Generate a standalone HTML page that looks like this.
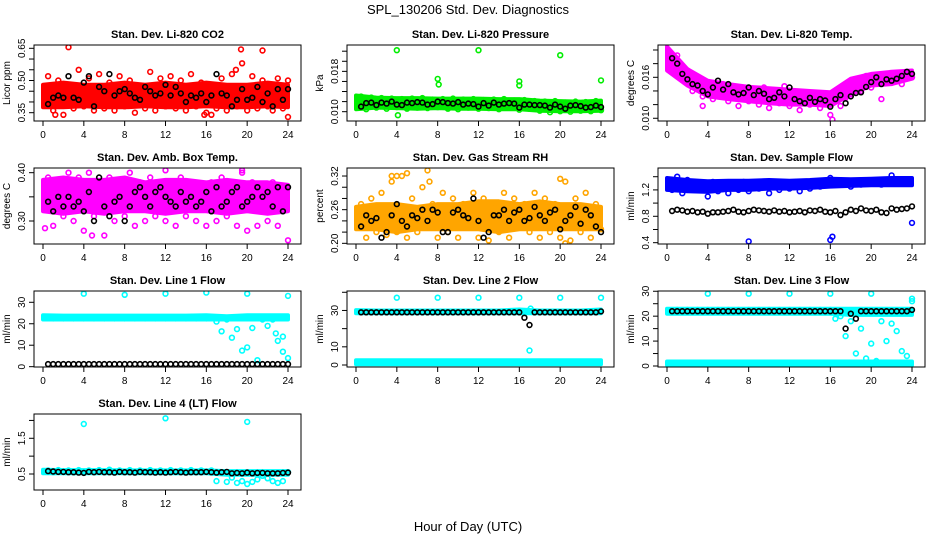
<!DOCTYPE html>
<html><head><meta charset="utf-8"><title>SPL_130206 Std. Dev. Diagnostics</title>
<style>
html,body{margin:0;padding:0;background:#fff;}
svg{display:block;font-family:"Liberation Sans",Arial,sans-serif;}
</style></head>
<body>
<svg id="fig" width="936" height="540" viewBox="0 0 936 540" xmlns="http://www.w3.org/2000/svg">
<rect x="0" y="0" width="936" height="540" fill="#fff"/>
<text x="468" y="14" text-anchor="middle" font-size="13">SPL_130206  Std. Dev. Diagnostics</text>
<text x="468" y="531" text-anchor="middle" font-size="13">Hour of Day (UTC)</text>
</svg>
<script>
const hours=[0.5,1,1.5,2,2.5,3,3.5,4,4.5,5,5.5,6,6.5,7,7.5,8,8.5,9,9.5,10,10.5,11,11.5,12,12.5,13,13.5,14,14.5,15,15.5,16,16.5,17,17.5,18,18.5,19,19.5,20,20.5,21,21.5,22,22.5,23,23.5,24];
const bandHours=[0,2,4,6,8,10,12,14,16,18,20,22,24];
const xTicks=[0,4,8,12,16,20,24];

// P1 CO2
const co2Black=[0.39,0.42,0.43,0.42,0.52,0.42,0.41,0.49,0.52,0.38,0.47,0.45,0.53,0.43,0.45,0.46,0.44,0.42,0.41,0.47,0.45,0.43,0.44,0.48,0.43,0.47,0.44,0.40,0.43,0.42,0.44,0.40,0.43,0.53,0.44,0.43,0.38,0.41,0.46,0.41,0.42,0.47,0.40,0.44,0.38,0.46,0.41,0.46];
const co2Color=[0.52,0.36,0.50,0.34,0.47,0.37,0.55,0.38,0.51,0.36,0.53,0.37,0.49,0.36,0.52,0.38,0.50,0.35,0.46,0.37,0.54,0.36,0.51,0.38,0.52,0.37,0.50,0.36,0.53,0.38,0.49,0.35,0.34,0.37,0.51,0.36,0.53,0.38,0.58,0.36,0.52,0.37,0.50,0.38,0.36,0.51,0.37,0.50];
const co2BandLo=[0.375,0.375,0.38,0.375,0.375,0.38,0.375,0.375,0.38,0.375,0.375,0.38,0.375];
const co2BandHi=[0.48,0.49,0.48,0.48,0.49,0.48,0.49,0.48,0.49,0.48,0.48,0.49,0.48];
const co2OutX=[2.5,19.4,21.5,18.9,24,1.2,15.8];
const co2OutY=[0.655,0.645,0.64,0.55,0.33,0.34,0.34];

// P2 Pressure
const presBlack=[0.0110,0.0117,0.0118,0.0113,0.0118,0.0116,0.0120,0.0114,0.0113,0.0118,0.0117,0.0119,0.0118,0.0114,0.0115,0.0120,0.0119,0.0117,0.0116,0.0119,0.0114,0.0116,0.0115,0.0110,0.0117,0.0112,0.0118,0.0114,0.0116,0.0117,0.0116,0.0108,0.0114,0.0114,0.0113,0.0113,0.0112,0.0108,0.0114,0.0110,0.0106,0.0112,0.0113,0.0111,0.0108,0.0109,0.0112,0.0109];
const presColor=[0.0130,0.0105,0.0128,0.0108,0.0127,0.0106,0.0126,0.0109,0.0125,0.0106,0.0126,0.0108,0.0127,0.0107,0.0124,0.0109,0.0125,0.0106,0.0126,0.0105,0.0124,0.0108,0.0125,0.0106,0.0123,0.0107,0.0124,0.0105,0.0125,0.0108,0.0122,0.0104,0.0123,0.0106,0.0121,0.0102,0.0120,0.0099,0.0121,0.0101,0.0118,0.0100,0.0120,0.0102,0.0119,0.0101,0.0121,0.0103];
const presBandLo=[0.0105,0.0108,0.0107,0.0106,0.0107,0.0106,0.0106,0.0105,0.0105,0.0102,0.0101,0.0101,0.0102];
const presBandHi=[0.0132,0.0128,0.0127,0.0127,0.0126,0.0126,0.0126,0.0125,0.0125,0.0122,0.0121,0.0120,0.0122];
const presOutX=[4,12,20,8,8.1,16,16,24,4.1];
const presOutY=[0.0222,0.0222,0.0212,0.0165,0.0154,0.016,0.0152,0.0162,0.0093];

// P3 Li-820 Temp
const ltBlack=[0.0188,0.0180,0.0165,0.0157,0.0150,0.0148,0.0140,0.0135,0.0145,0.0155,0.0142,0.0150,0.0138,0.0135,0.0137,0.0145,0.0134,0.0140,0.0136,0.0128,0.0130,0.0138,0.0132,0.0145,0.0128,0.0125,0.0122,0.0130,0.0124,0.0128,0.0126,0.0117,0.0128,0.0134,0.0122,0.0132,0.0137,0.0138,0.0146,0.0153,0.0160,0.0150,0.0157,0.0155,0.0158,0.0162,0.0168,0.0165];
const ltColor=[0.0178,0.0192,0.0158,0.0170,0.0140,0.0158,0.0132,0.0150,0.0128,0.0145,0.0150,0.0125,0.0140,0.0118,0.0138,0.0125,0.0142,0.0120,0.0145,0.0115,0.0140,0.0122,0.0147,0.0118,0.0135,0.0112,0.0132,0.0120,0.0128,0.0115,0.0130,0.0105,0.0126,0.0118,0.0130,0.0135,0.0150,0.0140,0.0162,0.0145,0.0158,0.0128,0.0165,0.0152,0.0160,0.0150,0.0168,0.0160];
const ltBandLo=[0.0170,0.0148,0.0132,0.0128,0.0125,0.0122,0.0120,0.0120,0.0118,0.0135,0.0148,0.0150,0.0158];
const ltBandHi=[0.0205,0.0172,0.0155,0.0150,0.0146,0.0144,0.0142,0.0140,0.0138,0.0158,0.0165,0.0168,0.0170];
const ltOutX=[3.5,16.2];
const ltOutY=[0.0118,0.0098];

// P4 Amb Box Temp
const abBlack=[0.34,0.32,0.35,0.33,0.35,0.33,0.34,0.32,0.36,0.30,0.39,0.33,0.31,0.34,0.35,0.30,0.33,0.36,0.37,0.35,0.33,0.36,0.37,0.35,0.34,0.33,0.36,0.34,0.35,0.33,0.34,0.36,0.32,0.37,0.33,0.34,0.36,0.37,0.33,0.34,0.35,0.37,0.35,0.36,0.33,0.37,0.32,0.37];
const abColor=[0.39,0.29,0.38,0.31,0.40,0.30,0.39,0.28,0.40,0.31,0.38,0.27,0.39,0.30,0.38,0.31,0.40,0.29,0.38,0.30,0.39,0.31,0.37,0.30,0.38,0.29,0.39,0.31,0.38,0.30,0.37,0.29,0.38,0.30,0.39,0.31,0.37,0.29,0.40,0.28,0.38,0.29,0.37,0.30,0.38,0.29,0.36,0.26];
const abBandLo=[0.32,0.315,0.32,0.315,0.32,0.32,0.315,0.32,0.32,0.315,0.32,0.315,0.32];
const abBandHi=[0.385,0.39,0.385,0.385,0.39,0.38,0.385,0.385,0.38,0.385,0.38,0.38,0.375];
const abOutX=[0.2,4.8,12,19.5];
const abOutY=[0.285,0.27,0.405,0.405];

// P5 Gas Stream RH
const rhBlack=[0.23,0.25,0.24,0.245,0.21,0.22,0.25,0.27,0.24,0.23,0.25,0.245,0.26,0.24,0.26,0.255,0.22,0.22,0.255,0.26,0.25,0.245,0.28,0.24,0.21,0.22,0.25,0.25,0.26,0.24,0.255,0.26,0.24,0.245,0.265,0.25,0.24,0.255,0.26,0.225,0.24,0.25,0.265,0.235,0.26,0.25,0.23,0.22];
const rhColor=[0.27,0.21,0.28,0.22,0.29,0.215,0.31,0.22,0.32,0.21,0.28,0.22,0.30,0.23,0.27,0.21,0.29,0.22,0.28,0.21,0.27,0.23,0.29,0.21,0.28,0.205,0.27,0.22,0.29,0.21,0.28,0.23,0.27,0.22,0.29,0.21,0.28,0.22,0.27,0.21,0.31,0.205,0.28,0.22,0.29,0.21,0.27,0.225];
const rhBandLo=[0.225,0.225,0.22,0.225,0.225,0.225,0.225,0.22,0.225,0.225,0.225,0.225,0.225];
const rhBandHi=[0.265,0.27,0.27,0.265,0.27,0.27,0.275,0.275,0.27,0.275,0.27,0.27,0.265];
const rhOutX=[3.5,4,5,7,7.2,20,20.5];
const rhOutY=[0.32,0.32,0.325,0.33,0.31,0.315,0.20];

// P6 Sample Flow
const sfBlack=[0.88,0.90,0.89,0.87,0.88,0.86,0.87,0.84,0.86,0.86,0.87,0.88,0.90,0.87,0.86,0.88,0.90,0.89,0.88,0.87,0.89,0.87,0.88,0.86,0.87,0.88,0.86,0.89,0.88,0.90,0.87,0.86,0.88,0.82,0.86,0.90,0.88,0.92,0.89,0.88,0.90,0.86,0.85,0.92,0.90,0.91,0.92,0.95];
const sfColor=[1.20,1.40,1.15,1.35,1.25,1.20,1.30,1.10,1.32,1.18,1.30,1.15,1.28,1.20,1.32,1.18,1.30,1.22,1.28,1.15,1.32,1.20,1.30,1.22,1.28,1.18,1.30,1.22,1.32,1.25,1.30,1.38,1.28,1.34,1.30,1.25,1.32,1.28,1.34,1.30,1.33,1.28,1.34,1.42,1.32,1.30,1.34,0.70];
const sfBandLo=[1.20,1.18,1.17,1.20,1.20,1.22,1.22,1.23,1.25,1.26,1.27,1.27,1.27];
const sfBandHi=[1.38,1.35,1.33,1.34,1.34,1.35,1.34,1.35,1.37,1.36,1.37,1.38,1.38];
const sfOutX=[8,16,16.2];
const sfOutY=[0.42,0.44,0.49];

// P7 Line 1 Flow
const l1Black=[1.2,1.2,1.2,1.2,1.2,1.2,1.2,1.2,1.2,1.2,1.2,1.2,1.2,1.2,1.2,1.2,1.2,1.2,1.2,1.2,1.2,1.2,1.2,1.2,1.2,1.2,1.2,1.2,1.2,1.2,1.2,1.2,1.2,1.2,1.2,1.2,1.2,1.2,1.2,1.2,1.2,1.2,1.2,1.2,1.2,1.2,1.2,1.2];
const l1Color=[23,22.5,23,22.5,23,22.5,23,22.5,23,22.5,23,22.5,23,22.5,23,22.5,23,22.5,23,22.5,23,22.5,23,22.5,23,22.5,23,22.5,23,22.5,23,22.5,23,21,16.5,22,13.5,17.5,7.5,9,18,3,22,19,22,12,7,4];
const l1BandLo=[22,22,22,22,22,22,22,22,22,22,22,22,22];
const l1BandHi=[24,23.8,23.8,23.8,23.8,23.8,23.8,23.8,24,23.5,24,24,24];
const l1OutX=[4,8,12,16,20,24,23.5,22.8];
const l1OutY=[34,33.5,34,34.5,34,33,14,15.5];

// P8 Line 2 Flow
const l2Black=[29,29,29,29,29,29,29,29,29,29,29,29,29,29,29,29,29,29,29,29,29,29,29,29,29,29,29,29,29,29,29,29,26,22,29,29,29,29,29,29,29,29,29,29,29,29,29,29.5];
const l2BandLo=[28.5,28.5,28.5,28.5,28.5,28.5,28.5,28.5,28.5,28.5,28.5,28.5,28.5];
const l2BandHi=[30.2,30,30,30,30,30,30,30,30.5,30,30,30,30.5];
const l2Band2Lo=[0.4,0.4,0.4,0.4,0.4,0.4,0.4,0.4,0.4,0.4,0.4,0.4,0.4];
const l2Band2Hi=[2.6,2.6,2.6,2.6,2.6,2.6,2.6,2.6,2.6,2.6,2.6,2.6,2.6];
const l2OutX=[4,8,12,16,20,24,17,17.1];
const l2OutY=[37,37,37,37,37,37,8,31];

// P9 Line 3 Flow
const l3Black=[22,22,22,22,22,22,22,22,22,22,22,22,22,22,22,22,22,22,22,22,22,22,22,22,22,22,22,22,22,22,22,22,22,22,15,21,19,22,22,22,22,22,22,22,22,22,22,22.5];
const l3Color=[21.5,22.5,21.5,22.5,21.5,22.5,21.5,22.5,21.5,22.5,21.5,22.5,21.5,22.5,21.5,22.5,21.5,22.5,21.5,22.5,21.5,22.5,21.5,22.5,21.5,22.5,21.5,22.5,21.5,22.5,21.5,22.5,19,20,12,18,5,15,3,9,2,18,10,17,14,6,4,26];
const l3BandLo=[21,21,21,21,21,21,21,21,21,20.5,20.5,20.5,20.5];
const l3BandHi=[23,23,23,23,23,23,23,23,23,23,23,23,23];
const l3Band2Lo=[0.4,0.4,0.4,0.4,0.4,0.4,0.4,0.4,0.4,0.4,0.4,0.4,0.4];
const l3Band2Hi=[1.8,1.8,1.8,1.8,1.8,1.8,1.8,1.8,1.8,1.8,1.8,1.8,1.8];
const l3OutX=[4,8,12,16,20,24];
const l3OutY=[29,29,29,29,29,27];

// P10 Line 4 (LT) Flow
const l4Black=[0.58,0.57,0.56,0.56,0.55,0.55,0.54,0.53,0.56,0.55,0.56,0.55,0.55,0.54,0.56,0.55,0.55,0.54,0.56,0.55,0.55,0.54,0.55,0.54,0.55,0.56,0.55,0.54,0.55,0.55,0.55,0.56,0.55,0.54,0.55,0.56,0.52,0.53,0.52,0.54,0.52,0.53,0.53,0.52,0.52,0.52,0.53,0.54];
const l4Color=[0.60,0.55,0.61,0.56,0.60,0.55,0.61,0.56,0.60,0.55,0.61,0.56,0.62,0.55,0.60,0.56,0.61,0.55,0.60,0.56,0.61,0.55,0.60,0.56,0.61,0.55,0.60,0.56,0.61,0.55,0.60,0.56,0.60,0.30,0.55,0.28,0.40,0.25,0.30,0.22,0.28,0.35,0.45,0.38,0.30,0.25,0.30,0.55];
const l4BandLo=[0.52,0.52,0.52,0.52,0.52,0.52,0.52,0.52,0.52,0.48,0.48,0.48,0.48];
const l4BandHi=[0.62,0.61,0.61,0.61,0.60,0.60,0.60,0.60,0.60,0.58,0.58,0.58,0.58];
const l4OutX=[4,12,20];
const l4OutY=[1.9,2.06,1.96];

const NS='http://www.w3.org/2000/svg';
const fig=document.getElementById('fig');
function mk(tag,attrs,parent){const e=document.createElementNS(NS,tag);for(const k in attrs)e.setAttribute(k,attrs[k]);(parent||fig).appendChild(e);return e;}

const panels=[
 {key:'co2',col:0,row:0,title:'Stan. Dev. Li-820 CO2',ylab:'Licor ppm',dom:[0.3113,0.6654],ticks:[0.35,0.40,0.45,0.50,0.55,0.60,0.65],labels:[0.35,0.50,0.65],fmt:2,color:'#ff0000',bands:[[co2BandLo,co2BandHi]],black:co2Black,colored:co2Color,ox:co2OutX,oy:co2OutY},
 {key:'pressure',col:1,row:0,title:'Stan. Dev. Li-820 Pressure',ylab:'kPa',dom:[0.00815,0.02323],ticks:[0.010,0.012,0.014,0.016,0.018,0.020,0.022],labels:[0.010,0.018],fmt:3,color:'#00ee00',bands:[[presBandLo,presBandHi]],black:presBlack,colored:presColor,ox:presOutX,oy:presOutY},
 {key:'li820-temp',col:2,row:0,title:'Stan. Dev. Li-820 Temp.',ylab:'degrees C',dom:[0.0096,0.02073],ticks:[0.010,0.012,0.014,0.016,0.018,0.020],labels:[0.010,0.016],fmt:3,color:'#ff00ff',bands:[[ltBandLo,ltBandHi]],black:ltBlack,colored:ltColor,ox:ltOutX,oy:ltOutY},
 {key:'amb-box-temp',col:0,row:1,title:'Stan. Dev. Amb. Box Temp.',ylab:'degrees C',dom:[0.2524,0.4097],ticks:[0.30,0.35,0.40],labels:[0.30,0.40],fmt:2,color:'#ff00ff',bands:[[abBandLo,abBandHi]],black:abBlack,colored:abColor,ox:abOutX,oy:abOutY},
 {key:'gas-stream-rh',col:1,row:1,title:'Stan. Dev. Gas Stream RH',ylab:'percent',dom:[0.1988,0.3343],ticks:[0.20,0.22,0.24,0.26,0.28,0.30,0.32],labels:[0.20,0.26,0.32],fmt:2,color:'#ffa500',bands:[[rhBandLo,rhBandHi]],black:rhBlack,colored:rhColor,ox:rhOutX,oy:rhOutY},
 {key:'sample-flow',col:2,row:1,title:'Stan. Dev. Sample Flow',ylab:'ml/min',dom:[0.380,1.532],ticks:[0.4,0.6,0.8,1.0,1.2,1.4],labels:[0.4,0.8,1.2],fmt:1,color:'#0000ff',bands:[[sfBandLo,sfBandHi]],black:sfBlack,colored:sfColor,ox:sfOutX,oy:sfOutY},
 {key:'line1-flow',col:0,row:2,title:'Stan. Dev. Line 1 Flow',ylab:'ml/min',dom:[-0.15,35.26],ticks:[0,10,20,30],labels:[0,10,20,30],fmt:0,color:'#00ffff',bands:[[l1BandLo,l1BandHi]],black:l1Black,colored:l1Color,ox:l1OutX,oy:l1OutY},
 {key:'line2-flow',col:1,row:2,title:'Stan. Dev. Line 2 Flow',ylab:'ml/min',dom:[-1.1,40.7],ticks:[0,10,20,30,40],labels:[0,10,30],fmt:0,color:'#00ffff',bands:[[l2BandLo,l2BandHi],[l2Band2Lo,l2Band2Hi]],black:l2Black,colored:null,ox:l2OutX,oy:l2OutY},
 {key:'line3-flow',col:2,row:2,title:'Stan. Dev. Line 3 Flow',ylab:'ml/min',dom:[-0.4,30.1],ticks:[0,5,10,15,20,25,30],labels:[0,10,20,30],fmt:0,color:'#00ffff',bands:[[l3BandLo,l3BandHi],[l3Band2Lo,l3Band2Hi]],black:l3Black,colored:l3Color,ox:l3OutX,oy:l3OutY},
 {key:'line4-flow',col:0,row:3,title:'Stan. Dev. Line 4 (LT) Flow',ylab:'ml/min',dom:[0.052,2.18],ticks:[0.5,1.0,1.5,2.0],labels:[0.5,1.5],fmt:1,color:'#00ffff',bands:[[l4BandLo,l4BandHi]],black:l4Black,colored:l4Color,ox:l4OutX,oy:l4OutY}
];

const colLeft=[34,347,658];
const rowTop=[45,168,291,414];
const BW=267,BH=76;

panels.forEach(p=>{
  const L=colLeft[p.col],T=rowTop[p.row];
  const g=mk('g',{});
  
  
  const xs=h=>L+9+h/24*245;
  const ys=v=>T+BH*(p.dom[1]-v)/(p.dom[1]-p.dom[0]);
  const clipId='clip-'+p.key;
  const cp=mk('clipPath',{id:clipId},g);
  mk('rect',{x:L,y:T,width:BW,height:BH},cp);
  const plot=mk('g',{'clip-path':'url(#'+clipId+')'},g);
  
  
  p.bands.forEach((b,bi)=>{
    const lo=b[0],hi=b[1];
    let pts=[];
    for(let i=0;i<bandHours.length;i++)pts.push(xs(bandHours[i]).toFixed(1)+','+ys(hi[i]).toFixed(1));
    for(let i=bandHours.length-1;i>=0;i--)pts.push(xs(bandHours[i]).toFixed(1)+','+ys(lo[i]).toFixed(1));
    const poly=mk('polygon',{points:pts.join(' '),fill:p.color,stroke:p.color,'stroke-width':4,'stroke-linejoin':'round'},plot);
    
    
  });
  if(p.colored){
    p.colored.forEach((v,i)=>{
      const c=mk('circle',{cx:xs(hours[i]).toFixed(1),cy:ys(v).toFixed(1),r:2.4,fill:'none',stroke:p.color,'stroke-width':1.6},plot);
      
      
    });
  }
  p.ox.forEach((xv,i)=>{
    const c=mk('circle',{cx:xs(xv).toFixed(1),cy:ys(p.oy[i]).toFixed(1),r:2.4,fill:'none',stroke:p.color,'stroke-width':1.6},plot);
    
    
  });
  p.black.forEach((v,i)=>{
    const c=mk('circle',{cx:xs(hours[i]).toFixed(1),cy:ys(v).toFixed(1),r:2.4,fill:'none',stroke:'#000','stroke-width':1.6},plot);
    
    
  });
  const box=mk('rect',{x:L,y:T,width:BW,height:BH,fill:'none',stroke:'#000','stroke-width':1},g);
  
  
  const t=mk('text',{x:L+BW/2,y:T-7,'text-anchor':'middle','font-size':11,'font-weight':'bold'},g);
  t.textContent=p.title;
  
  
  const xa=mk('g',{},g);
  
  
  mk('line',{x1:xs(0),x2:xs(24),y1:T+BH,y2:T+BH,stroke:'#000'},xa);
  xTicks.forEach(h=>{
    mk('line',{x1:xs(h),x2:xs(h),y1:T+BH,y2:T+BH+5,stroke:'#000'},xa);
    const tl=mk('text',{x:xs(h),y:T+BH+17,'text-anchor':'middle','font-size':10},xa);
    tl.textContent=String(h);
    
    
  });
  const ya=mk('g',{},g);
  
  
  mk('line',{x1:L,x2:L,y1:ys(p.ticks[0]),y2:ys(p.ticks[p.ticks.length-1]),stroke:'#000'},ya);
  p.ticks.forEach(v=>{
    const yy=ys(v);
    if(yy<T-0.5||yy>T+BH+0.5)return;
    mk('line',{x1:L-5,x2:L,y1:yy,y2:yy,stroke:'#000'},ya);
  });
  p.labels.forEach(v=>{
    const yy=ys(v),xx=L-9;
    const tl=mk('text',{x:xx,y:yy,'text-anchor':'middle','font-size':10,transform:'rotate(-90 '+xx+' '+yy+')'},ya);
    tl.textContent=v.toFixed(p.fmt);
    
    
  });
  const yl=mk('text',{x:L-24,y:T+BH/2,'text-anchor':'middle','font-size':10,transform:'rotate(-90 '+(L-24)+' '+(T+BH/2)+')'},g);
  yl.textContent=p.ylab;
  
  
});
</script>
</body></html>
